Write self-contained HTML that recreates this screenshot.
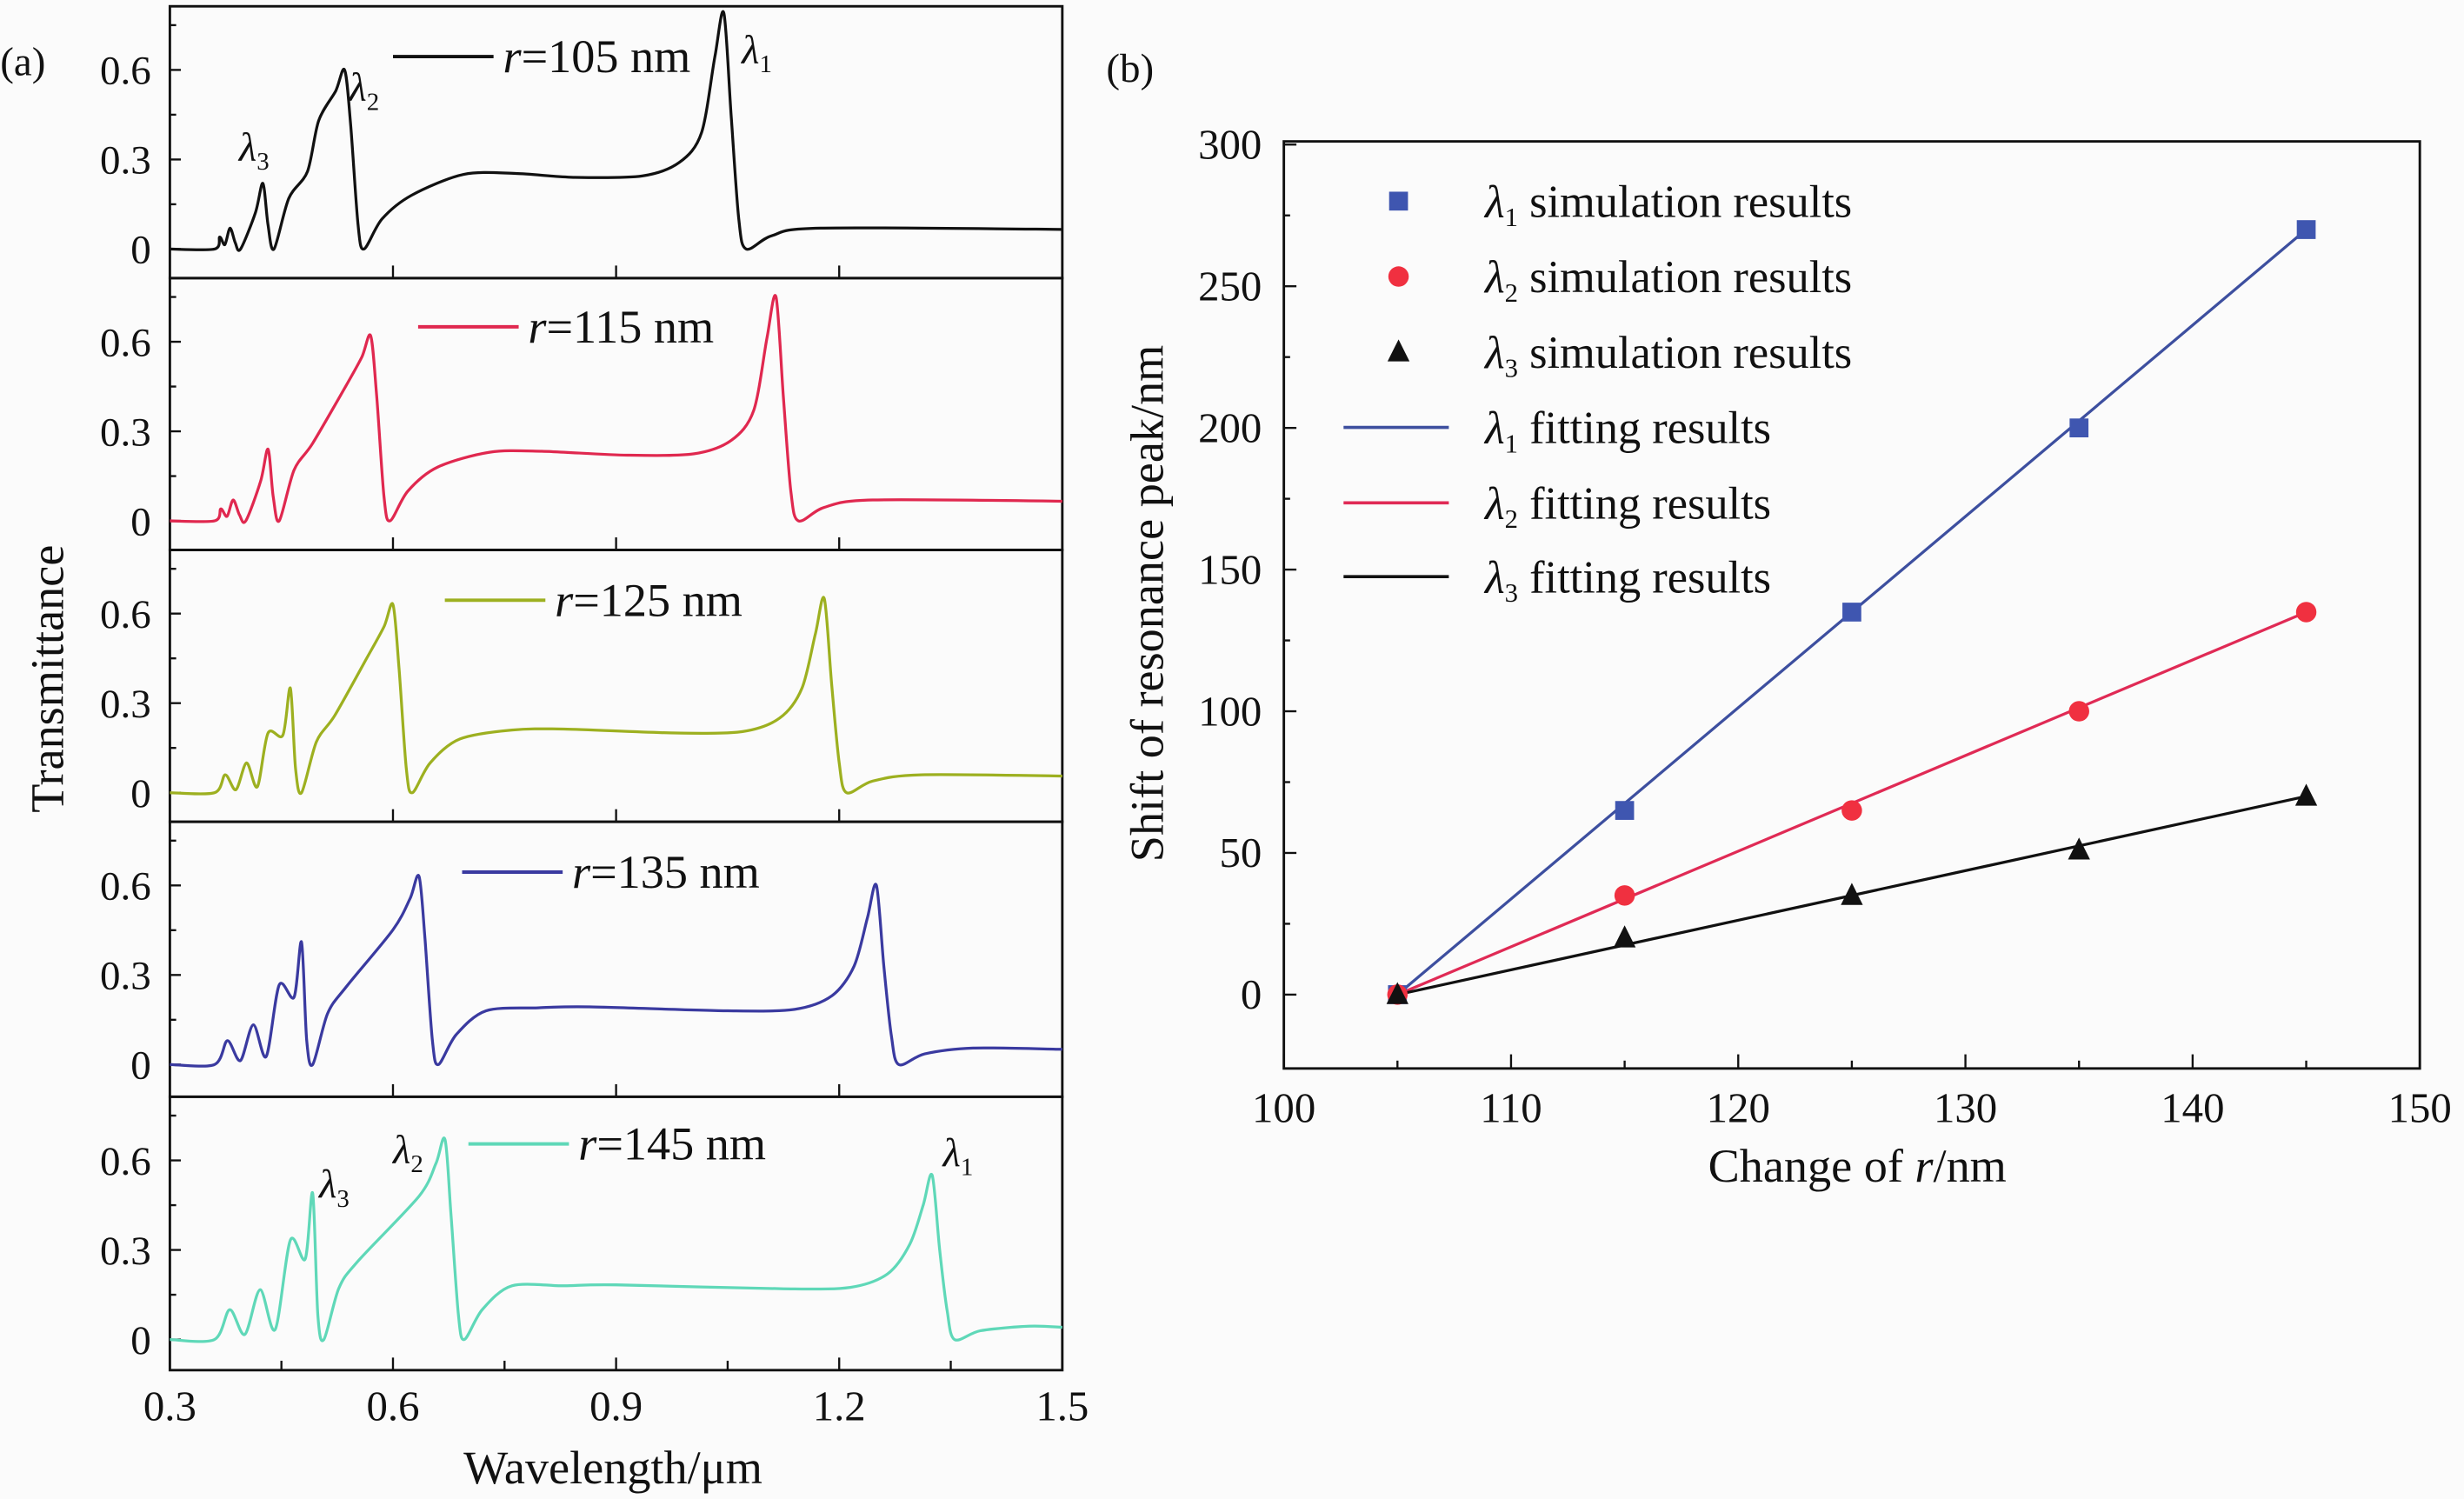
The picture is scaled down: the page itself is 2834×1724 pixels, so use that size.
<!DOCTYPE html>
<html><head><meta charset="utf-8"><style>
html,body{margin:0;padding:0;background:#fbfbfb}
svg{display:block}
text{font-family:"Liberation Serif",serif;fill:#111}
</style></head><body>
<svg id="s" width="2834" height="1724" viewBox="0 0 1568 954" xmlns="http://www.w3.org/2000/svg">
<rect width="1568" height="954" fill="#fbfbfb"/>
<g id="left"></g>
<g id="right"></g>
<text x="0" y="48" font-size="26">(a)</text>
<text x="704" y="52" font-size="26">(b)</text>
<text x="0" y="0" font-size="30" transform="translate(40,432) rotate(-90)" text-anchor="middle">Transmittance</text>
<text x="390" y="944" font-size="30" text-anchor="middle">Wavelength/μm</text>
<text x="0" y="0" font-size="30" transform="translate(740,384) rotate(-90)" text-anchor="middle">Shift of resonance peak/nm</text>
<text x="1182" y="752" font-size="30" text-anchor="middle">Change of <tspan font-style="italic">r</tspan>/nm</text>
</svg>
<script>
var NS="http://www.w3.org/2000/svg";
function el(p,t,a,txt){var e=document.createElementNS(NS,t);for(var k in a)e.setAttribute(k,a[k]);if(txt!==undefined)e.textContent=txt;p.appendChild(e);return e;}
var L=document.getElementById('left'),R=document.getElementById('right');
var x0=108,x1=676;
function X(w){return x0+(w-0.3)/1.2*(x1-x0);}
var tops=[4,177,350,523,698],bots=[177,350,523,698,872];
var cfg=[
 {r:105,c:"#111",p3:.425,h3:.22,p2:.535,h2:.60,pl:.25,p1:1.045,h1:.79,t:.07,lab:[250,36]},
 {r:115,c:"#e0284f",p3:.432,h3:.24,p2:.57,h2:.62,pl:.23,p1:1.115,h1:.75,t:.07,lab:[266,208]},
 {r:125,c:"#9db020",p3:.462,h3:.35,p2:.60,h2:.63,pl:.21,p1:1.18,h1:.65,t:.06,lab:[283,382]},
 {r:135,c:"#3a3aa0",p3:.477,h3:.41,p2:.635,h2:.63,pl:.19,p1:1.25,h1:.60,t:.055,lab:[294,555]},
 {r:145,c:"#5fd8b8",p3:.492,h3:.49,p2:.67,h2:.67,pl:.18,p1:1.325,h1:.55,t:.045,lab:[298,728]}
];
function pts(c){
 var a=[[0.3,0],[0.36,0]];
 var e=c.p3-0.03;
 var f=[0.2,0.4,0.6,0.8,1],v=[0.04,0.015,0.07,0.02,0.0];
 if(c.r>=125){v=[0.06,0.01,0.1,0.02,0.2];}
 for(var i=0;i<5;i++)a.push([0.36+f[i]*(e-0.36),v[i]*(c.r>=125?1+(c.r-125)/30:1)]);
 a.push([c.p3-0.01,c.h3*0.55],[c.p3,c.h3],[c.p3+0.007,0.08],[c.p3+0.015,0.0],
  [c.p3+0.035,0.17],[c.p3+0.06,0.26]);
 a.push([c.p2-0.035,0.43*c.h2/0.6],[c.p2-0.012,0.53*c.h2/0.6],[c.p2,c.h2],[c.p2+0.008,0.42],[c.p2+0.018,0.08],[c.p2+0.026,0],
  [c.p2+0.05,0.1],[c.p2+0.09,0.18],[c.p2+0.16,c.pl],[c.p2+0.23,c.pl+0.003]);
 a.push([c.p1-0.2,c.pl-0.01],[c.p1-0.11,c.pl-0.005],[c.p1-0.06,c.pl+0.04],[c.p1-0.03,c.pl+0.14],[c.p1-0.012,c.h1*0.82],[c.p1,c.h1],
  [c.p1+0.01,c.h1*0.55],[c.p1+0.02,0.1],[c.p1+0.03,0],[c.p1+0.065,c.t*0.65],[c.p1+0.13,c.t]);
 a.push([1.5,c.t-0.004]);
 return a;
}
function cr(P){
 var d="M"+P[0][0].toFixed(1)+","+P[0][1].toFixed(1);
 for(var i=0;i<P.length-1;i++){
  var p0=P[Math.max(0,i-1)],p1=P[i],p2=P[i+1],p3=P[Math.min(P.length-1,i+2)];
  var t=0.15;
  var c1=[p1[0]+(p2[0]-p0[0])*t,p1[1]+(p2[1]-p0[1])*t],c2=[p2[0]-(p3[0]-p1[0])*t,p2[1]-(p3[1]-p1[1])*t];
  d+="C"+c1[0].toFixed(1)+","+c1[1].toFixed(1)+" "+c2[0].toFixed(1)+","+c2[1].toFixed(1)+" "+p2[0].toFixed(1)+","+p2[1].toFixed(1);
 }
 return d;
}
cfg.forEach(function(c,k){
 var top=tops[k],bot=bots[k],y0=top+154.5;
 function Y(v){return y0-v*190;}
 el(L,'rect',{x:x0,y:top,width:x1-x0,height:bot-top,fill:'none',stroke:'#111','stroke-width':1.6});
 [0,0.15,0.3,0.45,0.6,0.75].forEach(function(v,i){var yy=Y(v);if(yy<top+2)return;
  el(L,'line',{x1:x0,x2:x0+(i%2?4:7),y1:yy,y2:yy,stroke:'#111','stroke-width':1.3});
  if(i%2==0)el(L,'text',{x:96,y:yy+9,'font-size':26,'text-anchor':'end'},v==0?'0':v.toFixed(1));});
 [0.45,0.6,0.75,0.9,1.05,1.2,1.35].forEach(function(w,i){var xx=X(w);
  el(L,'line',{x1:xx,x2:xx,y1:bot,y2:bot-(k==4?(i%2==0?6:8):(i%2==0?0:8)),stroke:'#111','stroke-width':1.3});});
 var P=pts(c).map(function(p){return [X(p[0]),Y(p[1])];});
 el(L,'path',{d:cr(P),fill:'none',stroke:c.c,'stroke-width':1.8});
 el(L,'line',{x1:c.lab[0],x2:c.lab[0]+64,y1:c.lab[1],y2:c.lab[1],stroke:c.c,'stroke-width':2.2});
 var t=el(L,'text',{x:c.lab[0]+70,y:c.lab[1]+10,'font-size':30});
 el(t,'tspan',{'font-style':'italic'},'r');el(t,'tspan',{},'='+c.r+' nm');
});
[0.3,0.6,0.9,1.2,1.5].forEach(function(w){el(L,'text',{x:X(w),y:904,'font-size':27,'text-anchor':'middle'},w.toFixed(1));});
function lam(p,x,y,n){var t=el(p,'text',{x:x,y:y,'font-size':26});el(t,'tspan',{'font-style':'italic'},'λ');el(t,'tspan',{'font-size':16,dy:6},n);}
lam(L,152,102,'3');lam(L,222,64,'2');lam(L,472,40,'1');
lam(L,203,762,'3');lam(L,250,740,'2');lam(L,600,742,'1');
var rx0=817,rx1=1540,ry0=90,ry1=680;
function RX(v){return rx0+(v-100)/50*(rx1-rx0);}
function RY(v){return 633-v*1.8033;}
el(R,'rect',{x:rx0,y:ry0,width:rx1-rx0,height:ry1-ry0,fill:'none',stroke:'#111','stroke-width':1.6});
for(var v=0;v<=300;v+=25){var yy=RY(v);el(R,'line',{x1:rx0,x2:rx0+(v%50?4:8),y1:yy,y2:yy,stroke:'#111','stroke-width':1.3});
 if(v%50==0)el(R,'text',{x:803,y:yy+9,'font-size':27,'text-anchor':'end'},v);}
for(var v=100;v<=150;v+=5){var xx=RX(v);el(R,'line',{x1:xx,x2:xx,y1:ry1,y2:ry1-(v%10?5:9),stroke:'#111','stroke-width':1.3});
 if(v%10==0)el(R,'text',{x:xx,y:714,'font-size':27,'text-anchor':'middle'},v);}
var xs=[105,115,125,135,145];
var S=[{d:[0,65,135,200,270],c:'#3d4f9f',m:'#3f56b0',s:'sq'},{d:[0,35,65,100,135],c:'#e02a55',m:'#f03040',s:'ci'},{d:[0,20,35,51,70],c:'#111',m:'#111',s:'tr'}];
S.forEach(function(s){el(R,'line',{x1:RX(105),y1:RY(0),x2:RX(145),y2:RY(s.d[4]),stroke:s.c,'stroke-width':1.8});});
function mark(s,x,y){if(s.s=='sq')el(R,'rect',{x:x-6,y:y-6,width:12,height:12,fill:s.m});
 else if(s.s=='ci')el(R,'circle',{cx:x,cy:y,r:6.5,fill:s.m});
 else el(R,'polygon',{points:(x)+','+(y-8)+' '+(x-7)+','+(y+6)+' '+(x+7)+','+(y+6),fill:s.m});}
S.forEach(function(s){xs.forEach(function(x,i){mark(s,RX(x),RY(s.d[i]));});});
var ly=[128,176,224,272,320,367],names=['simulation results','simulation results','simulation results','fitting results','fitting results','fitting results'];
for(var i=0;i<6;i++){
 var s=S[i%3];
 if(i<3)mark(s,890,ly[i]);else el(R,'line',{x1:855,x2:922,y1:ly[i],y2:ly[i],stroke:s.c,'stroke-width':2});
 var t=el(R,'text',{x:945,y:ly[i]+10,'font-size':29});
 el(t,'tspan',{'font-style':'italic'},'λ');el(t,'tspan',{'font-size':17,dy:6},String(i%3+1));el(t,'tspan',{dy:-6},' '+names[i]);
}
</script>
</body></html>
